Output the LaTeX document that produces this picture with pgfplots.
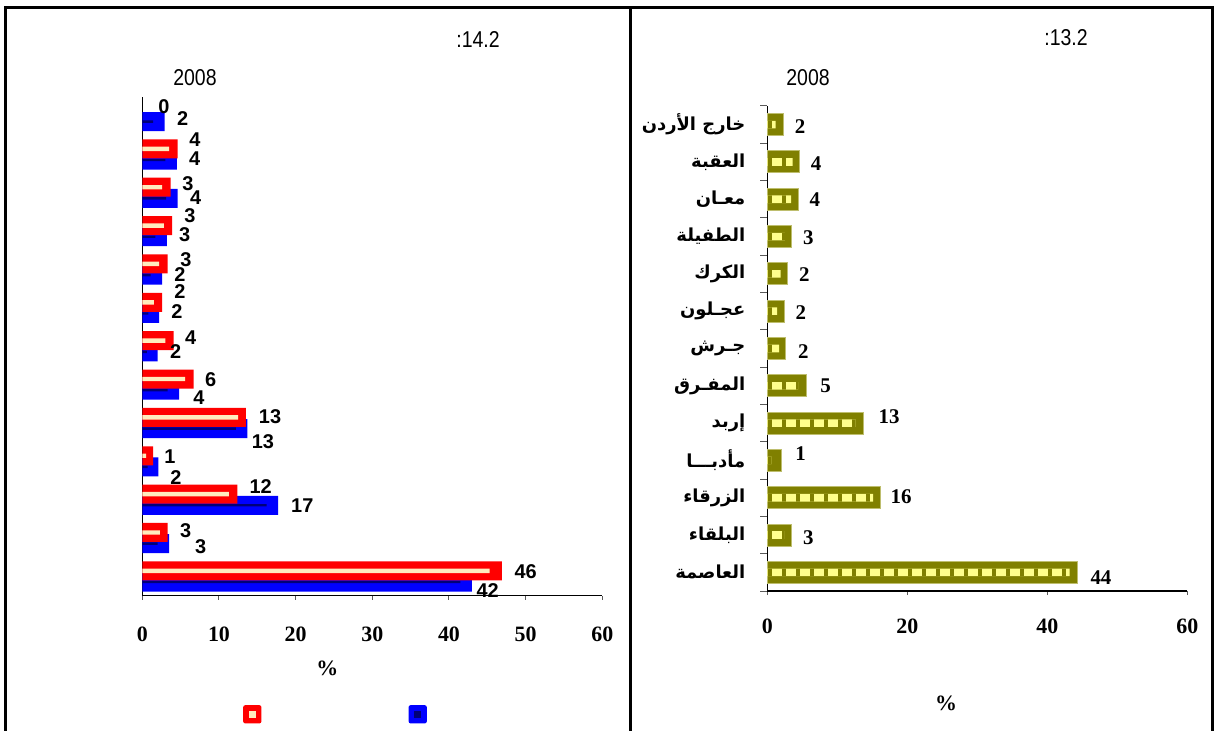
\documentclass[border=0pt]{standalone}
\usepackage{fontspec}
\setmainfont{Liberation Serif}
\newfontfamily\sansf{Liberation Sans}
\newfontfamily\narrowf[FakeStretch=0.85]{Liberation Sans}
\newfontfamily\arabicfont[Script=Arabic]{DejaVu Sans}
\usepackage{pgfplots}
\pgfplotsset{compat=1.18}
\usetikzlibrary{patterns.meta}
\TeXXeTstate=1
\definecolor{redbar}{RGB}{255,0,0}
\definecolor{cream}{RGB}{255,236,190}
\definecolor{bluebar}{RGB}{0,0,255}
\definecolor{navy}{RGB}{0,0,120}
\definecolor{olivebar}{RGB}{128,128,0}
\definecolor{oliveedge}{RGB}{190,190,110}
\definecolor{paleyel}{RGB}{255,255,140}
\definecolor{tickgray}{RGB}{90,90,90}
\begin{document}
\begin{tikzpicture}
\useasboundingbox (0,0) rectangle (607.5bp,365.5bp);
\fill[white] (0,0) rectangle (607.5bp,365.5bp);
\draw[line width=1.5bp] (2.5bp,0) -- (2.5bp,361.5bp) -- (606bp,361.5bp) -- (606bp,0);
\draw[line width=1.5bp] (315bp,0) -- (315bp,361.5bp);

\begin{axis}[
  at={(71.15bp,67.65bp)}, anchor=south west,
  scale only axis, width=230bp, height=249.35bp,
  xmin=0, xmax=60, ymin=-0.5, ymax=12.5,
  axis lines*=left, axis line style={line width=0.6bp},
  xtick={0,10,...,60}, ytick=\empty, minor ytick={-0.5,0.5,...,12.5},
  tick align=outside, major tick length=2bp, minor tick length=3.5bp,
  every tick/.append style={tickgray, line width=0.5bp},
  xticklabel style={font=\bfseries\fontsize{11}{13}\selectfont, yshift=-10bp},
  /pgf/number format/assume math mode=true,
  clip=false,
]
% blue series (drawn first, under the red)
\addplot[xbar, bar shift=0pt, bar width=9.5bp, fill=bluebar, draw=none] coordinates {
(2.9,11.857) (4.5,10.857) (4.6,9.857) (3.2,8.857) (2.6,7.857) (2.2,6.857) (2.0,5.857) (4.8,4.857) (13.7,3.857) (2.1,2.857) (17.7,1.857) (3.5,0.857) (43.0,-0.143)};
\addplot[xbar, bar shift=0pt, bar width=1.2bp, fill=navy, draw=none] coordinates {
(1.4,11.857) (3.0,10.857) (3.1,9.857) (1.7,8.857) (1.1,7.857) (0.8,6.857) (0.6,5.857) (3.3,4.857) (12.2,3.857) (0.7,2.857) (16.2,1.857) (2.0,0.857) (41.5,-0.143)};
% red series
\addplot[xbar, bar shift=0pt, bar width=9.5bp, fill=redbar, draw=none] coordinates {
(4.6,11.148) (3.7,10.148) (3.9,9.148) (3.3,8.148) (2.6,7.148) (4.1,6.148) (6.7,5.148) (13.5,4.148) (1.4,3.148) (12.4,2.148) (3.3,1.148) (46.9,0.148)};
\addplot[xbar, bar shift=0pt, bar width=2.2bp, fill=cream, draw=none] coordinates {
(3.5,11.148) (2.6,10.148) (2.8,9.148) (2.2,8.148) (1.5,7.148) (3.0,6.148) (5.6,5.148) (12.5,4.148) (0.5,3.148) (11.3,2.148) (2.3,1.148) (45.3,0.148)};
\addplot[draw=none, mark=none, nodes near coords, point meta=explicit symbolic,
  every node near coord/.style={anchor=center, inner sep=0pt, font=\sansf\bfseries\fontsize{10}{12}\selectfont}] coordinates {
(2.83,12.24)[0] (5.27,11.93)[2] (6.87,11.38)[4] (6.83,10.88)[4] (5.96,10.25)[3] (6.96,9.88)[4] (6.22,9.40)[3] (5.53,8.90)[3] (5.70,8.25)[3] (4.92,7.86)[2] (4.92,7.42)[2] (4.53,6.90)[2] (6.31,6.22)[4] (4.36,5.86)[2] (8.92,5.14)[6] (7.40,4.65)[4] (16.66,4.16)[13] (15.74,3.51)[13] (3.61,3.12)[1] (4.40,2.57)[2] (15.44,2.34)[12] (20.87,1.85)[17] (5.66,1.19)[3] (7.62,0.78)[3] (50.01,0.13)[46] (45.05,-0.37)[42]};
\end{axis}

\begin{axis}[
  at={(383.65bp,70bp)}, anchor=south west,
  scale only axis, width=210bp, height=242.5bp,
  xmin=0, xmax=60, ymin=-0.5, ymax=12.5,
  axis lines*=left, axis line style={line width=0.6bp},
  xtick={0,20,40,60},
  ytick={0,...,12},
  yticklabels={
    {\beginR العاصمة\endR},
    {\beginR البلقاء\endR},
    {\beginR الزرقاء\endR},
    {\beginR مأدبـــا\endR},
    {\beginR إربد\endR},
    {\beginR المفـرق\endR},
    {\beginR جـرش\endR},
    {\beginR عجـلون\endR},
    {\beginR الكرك\endR},
    {\beginR الطفيلة\endR},
    {\beginR معـان\endR},
    {\beginR العقبة\endR},
    {\beginR خارج الأردن\endR}},
  every major y tick/.append style={draw=none},
  minor ytick={-0.5,0.5,...,12.5},
  tick align=outside, major tick length=2bp, minor tick length=3.5bp,
  every tick/.append style={tickgray, line width=0.5bp},
  xticklabel style={font=\bfseries\fontsize{11}{13}\selectfont, yshift=-8.5bp},
  yticklabel style={font=\arabicfont\bfseries\fontsize{9}{11}\selectfont, anchor=east, xshift=-5.5bp},
  /pgf/number format/assume math mode=true,
  clip=false,
]
\addplot[xbar, bar shift=0pt, bar width=11bp, fill=olivebar, draw=oliveedge, line width=0.5bp] coordinates {
(2.3,12) (4.57,11) (4.39,10) (3.49,9) (2.91,8) (2.39,7) (2.67,6) (5.53,5) (13.71,4) (1.96,3) (16.1,2) (3.49,1) (44.29,0)};
\addplot[xbar, bar shift=0pt, bar width=3.8bp, fill=paleyel, draw=none,
  postaction={pattern={Lines[angle=90, distance=7bp, line width=2bp]}, pattern color=olivebar}] coordinates {
(1.2,12) (3.6,11) (3.4,10) (2.5,9) (1.9,8) (1.4,7) (1.7,6) (4.4,5) (12.6,4) (0.6,3) (15.1,2) (2.4,1) (43.2,0)};
\addplot[draw=none, mark=none, nodes near coords, point meta=explicit symbolic,
  every node near coord/.style={anchor=center, inner sep=0pt, font=\bfseries\fontsize{10.5}{12}\selectfont}] coordinates {
(4.67,11.95)[2] (6.96,10.96)[4] (6.81,9.98)[4] (5.86,8.97)[3] (5.29,7.97)[2] (4.81,6.96)[2] (5.14,5.91)[2] (8.34,5.00)[5] (17.39,4.17)[13] (4.77,3.17)[1] (19.1,2.03)[16] (5.86,0.94)[3] (47.67,-0.14)[44]};
\end{axis}

\node[font=\narrowf\fontsize{11.5}{13}\selectfont] at (239bp,345.5bp) {:14.2};
\node[font=\narrowf\fontsize{11.5}{13}\selectfont] at (533bp,346.5bp) {:13.2};
\node[font=\narrowf\fontsize{11.5}{13}\selectfont] at (97.5bp,326.5bp) {2008};
\node[font=\narrowf\fontsize{11.5}{13}\selectfont] at (404bp,326.5bp) {2008};
\node[font=\bfseries\fontsize{11}{13}\selectfont] at (163.65bp,31.35bp) {\%};
\node[font=\bfseries\fontsize{11}{13}\selectfont] at (473bp,14bp) {\%};
\fill[redbar, rounded corners=1bp] (121.6bp,3.8bp) rectangle (130.7bp,12.9bp);
\fill[cream] (124.4bp,6.6bp) rectangle (127.9bp,10.1bp);
\fill[bluebar, rounded corners=1bp] (204.3bp,3.8bp) rectangle (213.4bp,12.9bp);
\fill[navy] (207.1bp,6.6bp) rectangle (210.6bp,10.1bp);
\end{tikzpicture}
\end{document}
